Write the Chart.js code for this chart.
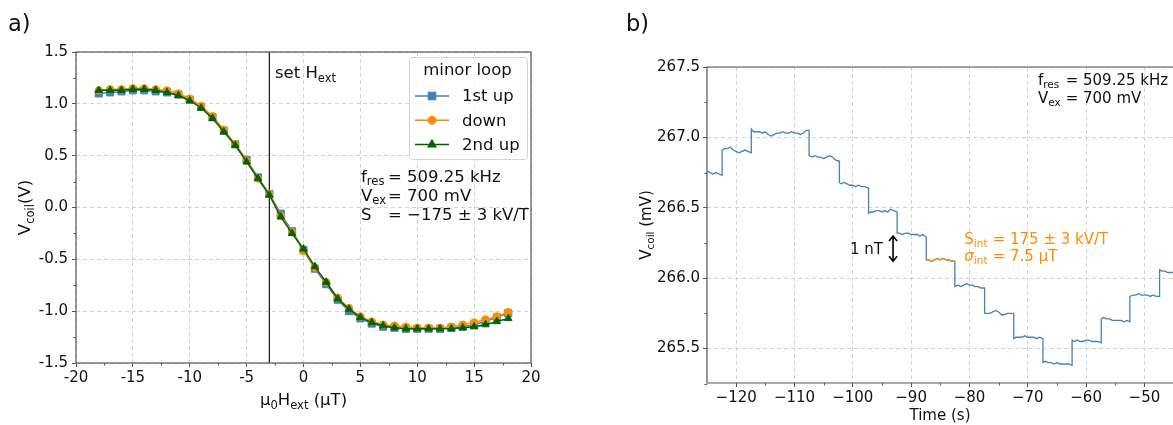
<!DOCTYPE html>
<html>
<head>
<meta charset="utf-8">
<script src="https://cdn.jsdelivr.net/npm/chart.js@4.4.1/dist/chart.umd.min.js"></script>
<style>
  html, body { margin: 0; padding: 0; background: #fff; width: 1173px; height: 425px; overflow: hidden; }
  .panel { position: absolute; top: 0; }
  #wrapA { left: 0; width: 560px; height: 425px; }
  #wrapB { left: 573px; width: 600px; height: 425px; }
</style>
</head>
<body>
<div id="wrapA" class="panel"><canvas id="chartA" width="560" height="425"></canvas></div>
<div id="wrapB" class="panel"><canvas id="chartB" width="600" height="425"></canvas></div>
<script>
// ---- panel a) minor loop ----
const fieldUT = [-18,-17,-16,-15,-14,-13,-12,-11,-10,-9,-8,-7,-6,-5,-4,-3,-2,-1,0,1,2,3,4,5,6,7,8,9,10,11,12,13,14,15,16,17,18];
const firstUp = [1.10,1.11,1.12,1.13,1.13,1.12,1.11,1.09,1.04,0.97,0.87,0.74,0.61,0.46,0.29,0.13,-0.06,-0.23,-0.41,-0.59,-0.74,-0.89,-1.00,-1.07,-1.12,-1.15,-1.16,-1.17,-1.17,-1.17,-1.17,-1.16,-1.15,-1.13,-1.10,-1.06,-1.02];
const down = [1.13,1.14,1.14,1.15,1.15,1.14,1.13,1.10,1.05,0.98,0.88,0.75,0.61,0.45,0.28,0.13,-0.08,-0.24,-0.42,-0.58,-0.72,-0.87,-0.97,-1.05,-1.10,-1.13,-1.14,-1.15,-1.16,-1.16,-1.16,-1.15,-1.13,-1.11,-1.08,-1.05,-1.01];
const secondUp = [1.13,1.13,1.13,1.14,1.14,1.13,1.11,1.08,1.03,0.96,0.86,0.73,0.60,0.44,0.28,0.12,-0.09,-0.25,-0.40,-0.57,-0.72,-0.88,-0.98,-1.06,-1.11,-1.14,-1.16,-1.17,-1.17,-1.17,-1.17,-1.17,-1.16,-1.15,-1.13,-1.10,-1.07];
const setField = -3;
const fieldTicks = [-20,-15,-10,-5,0,5,10,15,20];
const fieldMinor = [-17.5,-12.5,-7.5,-2.5,2.5,7.5,12.5,17.5];
const voltTicks = [-1.5,-1.0,-0.5,0.0,0.5,1.0,1.5];
const voltMinor = [-1.25,-0.75,-0.25,0.25,0.75,1.25];

// ---- panel b) time trace ----
const timeS = [
  -125,-124.5,-124,-123.5,-123,-122.4,
  -122.4,-122,-121.5,-121,-120.5,-120,-119.5,-119,-118.5,-118,-117.4,
  -117.4,-117,-116.5,-116,-115.5,-115,-114.5,-114,-113.5,-113,-112.5,-112,-111.5,-111,-110.5,-110,-109.5,-109,-108.5,-108,-107.5,
  -107.5,-107,-106.5,-106,-105.5,-105,-104.5,-104,-103.5,-103,-102.3,
  -102.3,-102,-101.5,-101,-100.5,-100,-99.5,-99,-98.5,-98,-97.3,
  -97.3,-97,-96.5,-96,-95.5,-95,-94.5,-94,-93.5,-93,-92.4,
  -92.4,-92,-91.5,-91,-90.5,-90,-89.5,-89,-88.5,-88,-87.4,
  -87.4,-87,-86.5,-86,-85.5,-85,-84.5,-84,-83.5,-83,-82.5,
  -82.5,-82,-81.5,-81,-80.5,-80,-79.5,-79,-78.5,-78,-77.4,
  -77.4,-77,-76.5,-76,-75.5,-75,-74.5,-74,-73.5,-73,-72.4,
  -72.4,-72,-71.5,-71,-70.5,-70,-69.5,-69,-68.5,-68,-67.4,
  -67.4,-67,-66.5,-66,-65.5,-65,-64.5,-64,-63.5,-63,-62.4,
  -62.4,-62,-61.5,-61,-60.5,-60,-59.5,-59,-58.5,-58,-57.4,
  -57.4,-57,-56.5,-56,-55.5,-55,-54.5,-54,-53.5,-53,-52.5,
  -52.5,-52,-51.5,-51,-50.5,-50,-49.5,-49,-48.5,-48,-47.4,
  -47.4,-47,-46.5,-46,-45.5,-45,-44.5
];
const vcoilMV = [
  266.76,266.75,266.74,266.75,266.74,266.73,
  266.91,266.92,266.92,266.93,266.91,266.90,266.89,266.90,266.91,266.90,266.89,
  267.06,267.04,267.04,267.04,267.03,267.04,267.02,267.01,267.02,267.03,267.03,267.04,267.03,267.03,267.04,267.03,267.03,267.02,267.03,267.05,267.05,
  266.87,266.86,266.87,266.86,266.86,266.85,266.86,266.87,266.86,266.84,266.83,
  266.68,266.67,266.68,266.67,266.66,266.66,266.65,266.66,266.65,266.65,266.64,
  266.46,266.47,266.47,266.48,266.48,266.47,266.48,266.47,266.49,266.48,266.47,
  266.32,266.32,266.31,266.32,266.32,266.31,266.31,266.31,266.30,266.31,266.29,
  266.13,266.13,266.12,266.13,266.14,266.13,266.14,266.13,266.13,266.12,266.12,
  265.94,265.95,265.94,265.95,265.96,265.95,265.95,265.94,265.94,265.93,265.93,
  265.75,265.75,265.75,265.76,265.77,265.76,265.74,265.74,265.75,265.75,265.75,
  265.57,265.58,265.58,265.58,265.59,265.58,265.58,265.58,265.57,265.58,265.57,
  265.40,265.41,265.40,265.40,265.39,265.40,265.39,265.39,265.39,265.39,265.38,
  265.56,265.55,265.56,265.55,265.55,265.56,265.56,265.55,265.55,265.55,265.54,
  265.71,265.72,265.71,265.71,265.70,265.70,265.70,265.70,265.69,265.70,265.69,
  265.87,265.88,265.88,265.89,265.88,265.88,265.88,265.87,265.88,265.87,265.87,
  266.06,266.05,266.05,266.04,266.04,266.04,266.03
];
// integration window (drawn in orange)
const intTime = [-87.4,-87,-86.5,-86,-85.5,-85,-84.5,-84,-83.5,-83,-82.5];
const intVcoil = [266.13,266.13,266.12,266.13,266.14,266.13,266.14,266.13,266.13,266.12,266.12];
const timeTicks = [-120,-110,-100,-90,-80,-70,-60,-50];
const timeMinor = [-115,-105,-95,-85,-75,-65,-55];
const mvTicks = [265.5,266.0,266.5,267.0,267.5];
const mvMinor = [265.25,265.75,266.25,266.75,267.25];
const nTArrow = { t: -93.1, from: 266.12, to: 266.30 };

const BLUE = '#4682b4', ORANGE = '#ff8c00', GREEN = '#006400';
const FONT = '"DejaVu Sans", sans-serif';
const FRAME = '#555';

function drawRich(ctx, parts, x, y, size, color, align, rotate) {
  ctx.save();
  ctx.fillStyle = color;
  ctx.textBaseline = 'alphabetic';
  ctx.textAlign = 'left';
  const fontFor = p => (p[1].includes('i') ? 'italic ' : '') + (p[1].includes('s') ? size * 0.7 : size) + 'px ' + FONT;
  let w = 0;
  parts.forEach(p => { ctx.font = fontFor(p); w += ctx.measureText(p[0]).width; });
  ctx.translate(x, y);
  if (rotate) ctx.rotate(-Math.PI / 2);
  let cx = align === 'center' ? -w / 2 : (align === 'right' ? -w : 0);
  parts.forEach(p => {
    ctx.font = fontFor(p);
    ctx.fillText(p[0], cx, p[1].includes('s') ? size * 0.22 : 0);
    cx += ctx.measureText(p[0]).width;
  });
  ctx.restore();
}

function minorTicks(ctx, chart, xs, ys) {
  const a = chart.chartArea, sx = chart.scales.x, sy = chart.scales.y;
  ctx.save();
  ctx.strokeStyle = FRAME; ctx.lineWidth = 1;
  ctx.beginPath();
  xs.forEach(v => { const p = Math.round(sx.getPixelForValue(v)) + 0.5; ctx.moveTo(p, a.bottom); ctx.lineTo(p, a.bottom + 2.5); });
  ys.forEach(v => { const p = Math.round(sy.getPixelForValue(v)) + 0.5; ctx.moveTo(a.left, p); ctx.lineTo(a.left - 2.5, p); });
  ctx.stroke();
  ctx.restore();
}

function axisOpts(min, max, ticks, fmt, size, pad) {
  return {
    type: 'linear', min: min, max: max,
    afterBuildTicks: s => { s.ticks = ticks.map(v => ({ value: v })); },
    ticks: { font: { family: FONT, size: size }, color: '#111', padding: pad, autoSkip: false, maxRotation: 0, callback: fmt },
    grid: { color: '#d2d2d2', lineWidth: 1, tickColor: FRAME, tickLength: 4, tickWidth: 1 },
    border: { display: false, dash: [4, 3] }
  };
}

// ---- chart a ----
const plotA = {
  id: 'plotA',
  afterDatasetsDraw(chart) {
    const ctx = chart.ctx, a = chart.chartArea;
    ctx.save();
    ctx.strokeStyle = FRAME; ctx.lineWidth = 1.2;
    ctx.strokeRect(a.left, a.top, a.right - a.left, a.bottom - a.top);
    ctx.restore();
    minorTicks(ctx, chart, fieldMinor, voltMinor);

    // legend
    ctx.save();
    ctx.fillStyle = 'rgba(255,255,255,0.85)';
    ctx.strokeStyle = '#d5d5d5'; ctx.lineWidth = 1;
    ctx.beginPath(); ctx.roundRect(409.5, 57.5, 118, 102, 3); ctx.fill(); ctx.stroke();
    ctx.fillStyle = '#111'; ctx.font = '16.5px ' + FONT; ctx.textAlign = 'center'; ctx.textBaseline = 'alphabetic';
    ctx.fillText('minor loop', 467.5, 75);
    const entries = [['1st up', BLUE, 'rect', 5], ['down', ORANGE, 'circle', 3.7], ['2nd up', GREEN, 'triangle', 4.3]];
    entries.forEach((e, i) => {
      const y = 96 + i * 24.3;
      ctx.strokeStyle = e[1]; ctx.fillStyle = e[1]; ctx.lineWidth = 1.5;
      ctx.beginPath(); ctx.moveTo(415, y); ctx.lineTo(449, y); ctx.stroke();
      Chart.helpers.drawPoint(ctx, { pointStyle: e[2], radius: e[3], rotation: 0, borderWidth: 1 }, 432, y);
      ctx.fillStyle = '#111'; ctx.textAlign = 'left'; ctx.textBaseline = 'middle';
      ctx.fillText(e[0], 462, y + 1);
    });
    ctx.restore();

    const c = '#111';
    drawRich(ctx, [['set H', ''], ['ext', 's']], 275, 78, 16.5, c, 'left');
    drawRich(ctx, [['f', ''], ['res', 's']], 361, 181.5, 16.5, c, 'left');
    drawRich(ctx, [['= 509.25 kHz', '']], 388, 181.5, 16.5, c, 'left');
    drawRich(ctx, [['V', ''], ['ex', 's']], 361, 200.5, 16.5, c, 'left');
    drawRich(ctx, [['= 700 mV', '']], 388, 200.5, 16.5, c, 'left');
    drawRich(ctx, [['S', '']], 361, 219.5, 16.5, c, 'left');
    drawRich(ctx, [['= \u2212175 \u00b1 3 kV/T', '']], 388, 219.5, 16.5, c, 'left');

    drawRich(ctx, [['\u03bc', ''], ['0', 's'], ['H', ''], ['ext', 's'], [' (\u03bcT)', '']], (a.left + a.right) / 2, 405, 16.5, c, 'center');
    drawRich(ctx, [['V', ''], ['coil', 's'], ['(V)', '']], 30, (a.top + a.bottom) / 2, 16.5, c, 'center', true);
    drawRich(ctx, [['a)', '']], 8, 30.5, 22.5, c, 'left');
  }
};

new Chart(document.getElementById('chartA'), {
  type: 'line',
  data: {
    datasets: [
      { label: '2nd up', data: fieldUT.map((x, i) => ({ x: x, y: secondUp[i] })), borderColor: GREEN, backgroundColor: GREEN,
        pointStyle: 'triangle', pointRadius: 4.3, pointBorderWidth: 1, borderWidth: 1.5, order: 1 },
      { label: 'down', data: fieldUT.map((x, i) => ({ x: x, y: down[i] })), borderColor: ORANGE, backgroundColor: ORANGE,
        pointStyle: 'circle', pointRadius: 3.7, pointBorderWidth: 1, borderWidth: 1.5, order: 2 },
      { label: '1st up', data: fieldUT.map((x, i) => ({ x: x, y: firstUp[i] })), borderColor: BLUE, backgroundColor: BLUE,
        pointStyle: 'rect', pointRadius: 5, pointBorderWidth: 1, borderWidth: 1.5, order: 3 },
      { label: 'set', data: [{ x: setField, y: voltTicks[0] }, { x: setField, y: voltTicks[voltTicks.length - 1] }],
        borderColor: '#222', borderWidth: 1.3, pointRadius: 0, order: 4 }
    ]
  },
  options: {
    responsive: false, animation: false, devicePixelRatio: 1,
    layout: { padding: { left: 0, right: 29, top: 52, bottom: 0 } },
    plugins: { legend: { display: false }, tooltip: { enabled: false } },
    elements: { line: { tension: 0 } },
    scales: {
      x: Object.assign(axisOpts(-20, 20, fieldTicks, v => String(v), 15, 2), { afterFit: s => { s.height = 62; } }),
      y: Object.assign(axisOpts(-1.5, 1.5, voltTicks, v => v.toFixed(1), 15, 4), { afterFit: s => { s.width = 76; } })
    }
  },
  plugins: [plotA]
});

// ---- chart b ----
const plotB = {
  id: 'plotB',
  afterDatasetsDraw(chart) {
    const ctx = chart.ctx, a = chart.chartArea;
    ctx.save();
    ctx.strokeStyle = FRAME; ctx.lineWidth = 1.2;
    ctx.beginPath();
    ctx.moveTo(chart.width, a.top); ctx.lineTo(a.left, a.top); ctx.lineTo(a.left, a.bottom); ctx.lineTo(chart.width, a.bottom);
    ctx.stroke();
    ctx.restore();
    minorTicks(ctx, chart, timeMinor, mvMinor);

    // 1 nT arrow
    const sx = chart.scales.x, sy = chart.scales.y;
    const ax = sx.getPixelForValue(nTArrow.t), y1 = sy.getPixelForValue(nTArrow.to), y2 = sy.getPixelForValue(nTArrow.from);
    ctx.save();
    ctx.strokeStyle = '#000'; ctx.lineWidth = 1.6;
    ctx.beginPath();
    ctx.moveTo(ax, y1); ctx.lineTo(ax, y2);
    ctx.moveTo(ax - 4, y1 + 5); ctx.lineTo(ax, y1); ctx.lineTo(ax + 4, y1 + 5);
    ctx.moveTo(ax - 4, y2 - 5); ctx.lineTo(ax, y2); ctx.lineTo(ax + 4, y2 - 5);
    ctx.stroke();
    ctx.restore();

    const c = '#111';
    drawRich(ctx, [['1 nT', '']], 883 - 573, 254.3, 15, c, 'right');
    drawRich(ctx, [['f', ''], ['res', 's']], 1038 - 573, 85, 15, c, 'left');
    drawRich(ctx, [['= 509.25 kHz', '']], 1065.7 - 573, 85, 15, c, 'left');
    drawRich(ctx, [['V', ''], ['ex', 's']], 1038 - 573, 102.7, 15, c, 'left');
    drawRich(ctx, [['= 700 mV', '']], 1065.7 - 573, 102.7, 15, c, 'left');
    drawRich(ctx, [['S', ''], ['int', 's']], 964.3 - 573, 244, 15, ORANGE, 'left');
    drawRich(ctx, [['= 175 \u00b1 3 kV/T', '']], 992.7 - 573, 244, 15, ORANGE, 'left');
    drawRich(ctx, [['\u03c3', 'i'], ['int', 's']], 964.3 - 573, 261, 15, ORANGE, 'left');
    drawRich(ctx, [['= 7.5 \u03bcT', '']], 992.7 - 573, 261, 15, ORANGE, 'left');

    drawRich(ctx, [['Time (s)', '']], (a.left + a.right) / 2, 420, 15, c, 'center');
    drawRich(ctx, [['V', ''], ['coil', 's'], [' (mV)', '']], 651 - 573, (a.top + a.bottom) / 2, 15, c, 'center', true);
    drawRich(ctx, [['b)', '']], 626 - 573, 30.5, 22.5, c, 'left');
  }
};

new Chart(document.getElementById('chartB'), {
  type: 'line',
  data: {
    datasets: [
      { label: 'integration', data: intTime.map((t, i) => ({ x: t, y: intVcoil[i] })), borderColor: ORANGE,
        borderWidth: 1.3, pointRadius: 0, order: 1 },
      { label: 'trace', data: timeS.map((t, i) => ({ x: t, y: vcoilMV[i] })), borderColor: BLUE,
        borderWidth: 1.3, pointRadius: 0, order: 2 }
    ]
  },
  options: {
    responsive: false, animation: false, devicePixelRatio: 1,
    layout: { padding: { left: 0, right: 0, top: 67, bottom: 0 } },
    plugins: { legend: { display: false }, tooltip: { enabled: false } },
    elements: { line: { tension: 0 } },
    scales: {
      x: Object.assign(axisOpts(-125, -45.1, timeTicks, v => String(v).replace('-', '\u2212'), 15, 2), { afterFit: s => { s.height = 42; } }),
      y: Object.assign(axisOpts(265.255, 267.5, mvTicks, v => v.toFixed(1), 15, 3), { afterFit: s => { s.width = 134; } })
    }
  },
  plugins: [plotB]
});
</script>
</body>
</html>
